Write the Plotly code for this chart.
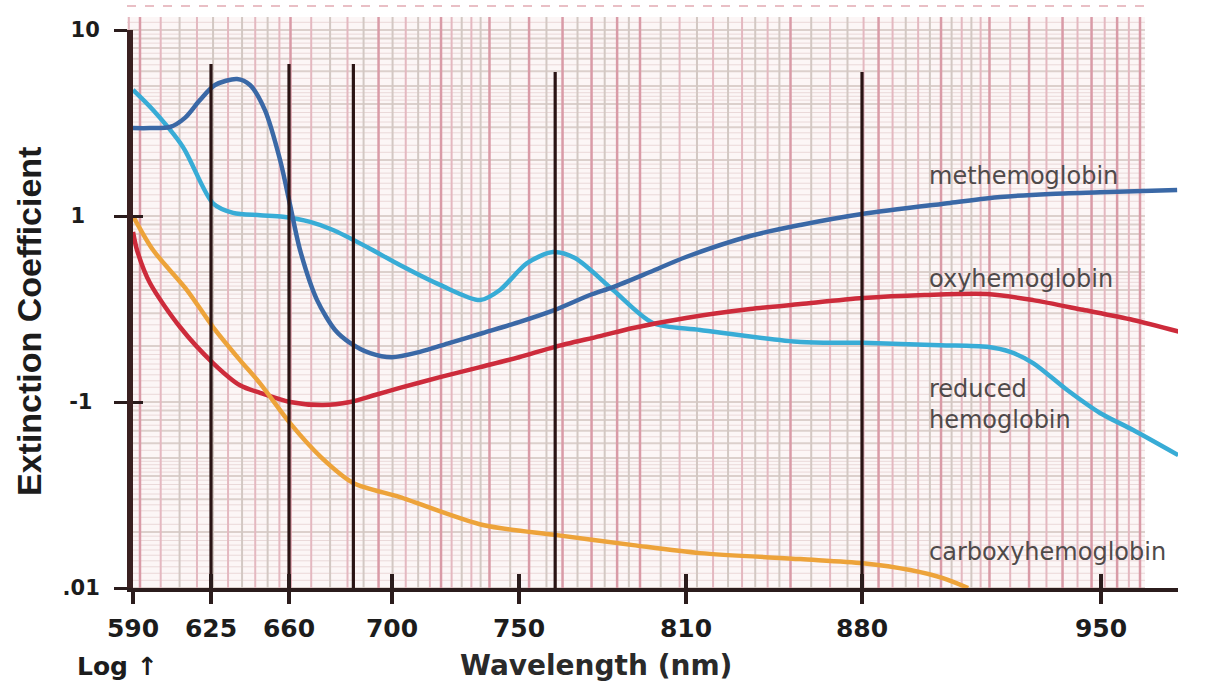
import numpy as np
import plotly.graph_objects as go

# ---------------------------------------------------------------------------
# Wavelength scale printed under the chart (tick wavelengths and their spacing
# along the axis, in axis units)
TICK_NM = [590, 625, 660, 700, 750, 810, 880, 950]
TICK_POS = [0, 78, 156, 259, 386, 553, 729, 968]
AXIS_END = 1045

# Extinction-coefficient tick labels (log axis)
Y_TICKS = [10, 1, 0.1, 0.01]
Y_TICK_TEXT = ["10", "1\u00a0\u00a0", "-1\u00a0", ".01"]

# Marker wavelengths (vertical bars) and their top values
MARK_NM = [625, 660, 685, 763, 880]
MARK_TOP = [6.56, 6.56, 6.56, 5.94, 5.94]

# Curves: wavelength (nm) and extinction coefficient
METHB_NM = [590, 597.6, 606.6, 613.3, 620.1, 626.8, 636.7, 642.5, 649.2, 656.0,
            660.4, 664.3, 670.9, 677.9, 683.7, 691.5, 700, 711.0, 722.8, 735.8,
            750, 762.9, 775.5, 783.8, 797.1, 810, 835.5, 855.5, 880, 905.8,
            920.5, 935.1, 949.7, 972.3]
METHB_K = [2.97, 2.97, 3.01, 3.37, 4.21, 5.06, 5.45, 5.06, 3.71, 2.0,
           1.15, 0.656, 0.353, 0.244, 0.208, 0.183, 0.174, 0.186, 0.208, 0.235,
           0.269, 0.313, 0.376, 0.415, 0.500, 0.602, 0.781, 0.895, 1.025, 1.175,
           1.265, 1.313, 1.34, 1.38]

REDHB_NM = [590, 599.0, 612.4, 625.9, 634.9, 647.0, 657.3, 668.2, 677.1, 690.3,
            703.1, 718.9, 734.7, 742.5, 752.9, 762.2, 770.1, 783.8, 798.1, 815.6,
            855.5, 880.3, 902.9, 916.6, 923.4, 930.1, 940.1, 949.7, 959.4, 972.6]
REDHB_K = [4.76, 3.71, 2.35, 1.17, 1.04, 1.01, 0.99, 0.929, 0.841, 0.681,
           0.545, 0.426, 0.353, 0.40, 0.558, 0.640, 0.594, 0.40, 0.266, 0.244,
           0.210, 0.208, 0.202, 0.198, 0.186, 0.162, 0.116, 0.0873, 0.0707, 0.0518]

OXYHB_NM = [590, 591.8, 597.6, 611.1, 625.9, 638.0, 647.0, 660.4, 673.2, 683.7,
            693.4, 703.1, 718.9, 734.7, 750, 762.9, 779.1, 791.0, 810, 835.5,
            855.5, 880.3, 898.3, 916.6, 930.1, 944.7, 959.4, 973.2]
OXYHB_K = [0.82, 0.656, 0.436, 0.253, 0.162, 0.123, 0.112, 0.100, 0.0963, 0.100,
           0.109, 0.119, 0.136, 0.154, 0.174, 0.198, 0.226, 0.250, 0.283, 0.316,
           0.336, 0.362, 0.376, 0.381, 0.353, 0.313, 0.276, 0.238]

COHB_NM = [590, 599.0, 614.2, 625.9, 638.0, 647.0, 660.4, 672.4, 685.0, 703.1,
           735.8, 762.9, 791.0, 815.6, 855.5, 880.3, 894.1, 903.7, 911.1]
COHB_K = [1.0, 0.656, 0.40, 0.253, 0.168, 0.126, 0.077, 0.0506, 0.0367, 0.0308,
          0.0218, 0.0193, 0.0170, 0.0154, 0.0143, 0.0136, 0.0125, 0.0113, 0.0100]


def nm_to_axis(nm):
    """Map wavelengths onto the printed (non-uniform) wavelength scale."""
    nm = np.asarray(nm, dtype=float)
    pos = np.interp(nm, TICK_NM, TICK_POS)
    slope = (TICK_POS[-1] - TICK_POS[-2]) / (TICK_NM[-1] - TICK_NM[-2])
    return np.where(nm > TICK_NM[-1], TICK_POS[-1] + (nm - TICK_NM[-1]) * slope, pos)


INK = "#2b1c1c"
fig = go.Figure()

# ---------------------------------------------------------------------------
# Log-log graph paper behind the curves
SHEET_LEFT, SHEET_RIGHT, SHEET_TOP = -6 / AXIS_END, 1012 / AXIS_END, 1.0233
SHEET_X0, SHEET_DECADE_X = 7, 500
sub = ([round(1 + 0.1 * i, 2) for i in range(10)] +
       [round(2 + 0.2 * i, 2) for i in range(15)] +
       [round(5 + 0.5 * i, 2) for i in range(10)])

shapes = [dict(type="rect", xref="paper", yref="paper", layer="below",
               x0=SHEET_LEFT, x1=SHEET_RIGHT, y0=0, y1=SHEET_TOP,
               fillcolor="#fcf6f6", line=dict(width=0))]

for k in (-2, -1, 0, 1):
    for v in sub:
        fy = (np.log10(v) + k + 2) / 3
        if 0 <= fy <= SHEET_TOP:
            whole = abs(v - round(v)) < 1e-9
            shapes.append(dict(type="line", xref="paper", yref="paper", layer="below",
                               x0=SHEET_LEFT, x1=SHEET_RIGHT, y0=fy, y1=fy,
                               line=dict(color="#dcd0cc" if whole else "#ead9d9",
                                         width=2 if whole else 1)))

idx = 0
for c in (-1, 0, 1, 2):
    for v in sub:
        px = SHEET_X0 + SHEET_DECADE_X * (c + np.log10(v))
        if -6 <= px <= 1008:
            whole = abs(v - round(v)) < 1e-9
            if whole:
                col, w = "#d99ba7", 2.5
            elif idx % 2 == 0:
                col, w = "#e4b8c0", 2
            else:
                col, w = "#d3c8c3", 2
            idx += 1
            shapes.append(dict(type="line", xref="paper", yref="paper", layer="below",
                               x0=px / AXIS_END, x1=px / AXIS_END, y0=0, y1=SHEET_TOP,
                               line=dict(color=col, width=w)))

# dashed rule above the sheet
shapes.append(dict(type="line", xref="paper", yref="paper", layer="below",
                   x0=SHEET_LEFT, x1=(1014) / AXIS_END, y0=1.043, y1=1.043,
                   line=dict(color="#e2aab3", width=1.5, dash="dash")))

# ---------------------------------------------------------------------------
# Spectra
series = [
    ("reduced hemoglobin", REDHB_NM, REDHB_K, "#38acd6"),
    ("oxyhemoglobin", OXYHB_NM, OXYHB_K, "#cd2b3b"),
    ("carboxyhemoglobin", COHB_NM, COHB_K, "#eda33a"),
    ("methemoglobin", METHB_NM, METHB_K, "#3a68a6"),
]
for name, nm, k, color in series:
    fig.add_trace(go.Scatter(
        x=nm_to_axis(nm), y=k, mode="lines", name=name,
        line=dict(color=color, width=4.5, shape="spline", smoothing=0.8),
        hoverinfo="skip", showlegend=False))

# Marker wavelengths (drawn on the overlay axes, which share the main scale)
for w, top in zip(MARK_NM, MARK_TOP):
    fig.add_trace(go.Scatter(
        x=nm_to_axis([w, w]), y=[0.01, top], mode="lines",
        line=dict(color="#2a1414", width=3.2), xaxis="x2", yaxis="y2",
        hoverinfo="skip", showlegend=False))

# ---------------------------------------------------------------------------
label_font = dict(family="DejaVu Sans", size=24, color="#4f4a4a")
annotations = [
    dict(text="methemoglobin", x=0.760, y=0.739),
    dict(text="oxyhemoglobin", x=0.760, y=0.554),
    dict(text="reduced<br>hemoglobin", x=0.760, y=0.329),
    dict(text="carboxyhemoglobin", x=0.760, y=0.065),
]
for a in annotations:
    a.update(xref="paper", yref="paper", xanchor="left", yanchor="middle",
             align="left", showarrow=False, font=label_font)

bold = dict(family="DejaVu Sans", weight="bold", color="#1c1c1c")
annotations += [
    dict(text="Wavelength (nm)", x=0.443, y=-0.138, xref="paper", yref="paper",
         xanchor="center", yanchor="middle", showarrow=False,
         font=dict(bold, size=28, color="#2a2a2a")),
    dict(text="Log \u2191", x=-0.015, y=-0.141, xref="paper", yref="paper",
         xanchor="center", yanchor="middle", showarrow=False,
         font=dict(bold, size=25)),
    dict(text="Extinction Coefficient", x=-0.0995, y=0.4767, xref="paper",
         yref="paper", xanchor="center", yanchor="middle", textangle=-90,
         showarrow=False,
         font=dict(family="Liberation Sans", weight="bold", size=34, color="#1c1c1c")),
]

xaxis_common = dict(range=[0, AXIS_END], tickvals=nm_to_axis(TICK_NM).tolist(),
                    showgrid=False, zeroline=False, fixedrange=True)
yaxis_common = dict(type="log", range=[-2, 1], tickvals=Y_TICKS,
                    showgrid=False, zeroline=False, fixedrange=True)

fig.update_layout(
    width=1207, height=682, autosize=False,
    margin=dict(l=133, r=29, t=30, b=94),
    paper_bgcolor="white", plot_bgcolor="rgba(0,0,0,0)",
    shapes=shapes, annotations=annotations,
    xaxis=dict(xaxis_common, ticktext=[str(t) for t in TICK_NM],
               ticks="outside", ticklen=12, tickwidth=3.5, tickcolor=INK,
               showline=True, linewidth=4, linecolor=INK,
               ticklabelstandoff=3,
               tickfont=dict(bold, size=25)),
    yaxis=dict(yaxis_common, ticktext=Y_TICK_TEXT,
               ticks="outside", ticklen=13, tickwidth=3, tickcolor=INK,
               showline=True, linewidth=6, linecolor="#3a2020",
               ticklabelstandoff=10,
               tickfont=dict(bold, size=21)),
    xaxis2=dict(xaxis_common, overlaying="x", anchor="y2", side="bottom",
                ticks="inside", ticklen=14, tickwidth=3.5, tickcolor=INK,
                showticklabels=False, showline=False),
    yaxis2=dict(yaxis_common, overlaying="y", anchor="x2", side="left",
                ticks="inside", ticklen=10, tickwidth=3, tickcolor=INK,
                showticklabels=False, showline=False),
)

fig.write_html("out.html")
